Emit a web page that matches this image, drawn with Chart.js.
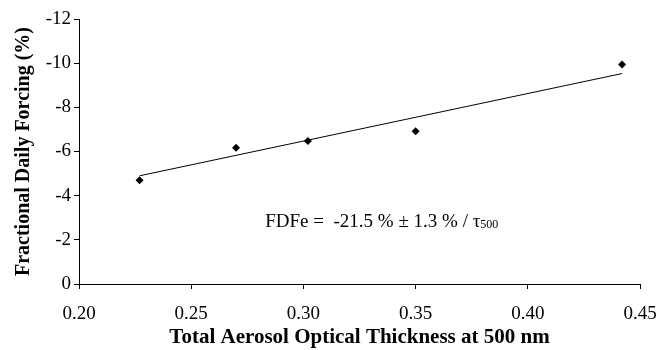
<!DOCTYPE html>
<html>
<head>
<meta charset="utf-8">
<script src="https://cdn.jsdelivr.net/npm/chart.js@4.4.1/dist/chart.umd.min.js"></script>
<style>
  html, body { margin: 0; padding: 0; background: #fff; }
  #wrap { width: 657px; height: 350px; position: relative; }
</style>
</head>
<body>
<div id="wrap"><canvas id="chart"></canvas></div>
<script>
// ── Data ───────────────────────────────────────────────────────────────────
const aodValues     = [0.227, 0.270, 0.302, 0.350, 0.442];
const forcingValues = [-4.70, -6.17, -6.48, -6.92, -9.94];

// fitted line endpoints
const fitX = [0.227, 0.442];
const fitY = [-4.90, -9.53];

const xTicks = [0.20, 0.25, 0.30, 0.35, 0.40, 0.45];
const yTicks = [0, -2, -4, -6, -8, -10, -12];

const SERIF = '"Liberation Serif", "Times New Roman", serif';

const points = aodValues.map((x, i) => ({ x, y: forcingValues[i] }));
const fitLine = fitX.map((x, i) => ({ x, y: fitY[i] }));

// equation text, placed in data coordinates
const eqLabel = {
  id: "eqLabel",
  afterDatasetsDraw(chart) {
    const { ctx, scales } = chart;
    const px = scales.x.getPixelForValue(0.2830);
    const py = scales.y.getPixelForValue(-2.6);
    ctx.save();
    ctx.fillStyle = "#000";
    ctx.textBaseline = "alphabetic";
    ctx.font = "normal 19px " + SERIF;
    const main = "FDFe =  -21.5 % \u00b1 1.3 % / \u03c4";
    ctx.fillText(main, px, py);
    const w = ctx.measureText(main).width;
    ctx.font = "normal 12px " + SERIF;
    ctx.fillText("500", px + w, py + 1);
    ctx.restore();
  },
};

new Chart(document.getElementById("chart"), {
  type: "scatter",
  data: {
    datasets: [
      {
        label: "data",
        data: points,
        pointStyle: "rectRot",
        pointRadius: 4,
        backgroundColor: "#000",
        borderColor: "#000",
        borderWidth: 0,
        showLine: false,
      },
      {
        label: "fit",
        data: fitLine,
        showLine: true,
        pointRadius: 0,
        borderColor: "#000",
        borderWidth: 1,
        fill: false,
      },
    ],
  },
  options: {
    responsive: true,
    maintainAspectRatio: false,
    animation: false,
    layout: { padding: { top: 19, right: 0, left: 0, bottom: 0 } },
    plugins: { legend: { display: false }, tooltip: { enabled: false } },
    scales: {
      x: {
        type: "linear",
        min: 0.20,
        max: 0.45,
        afterBuildTicks: (s) => { s.ticks = xTicks.map((v) => ({ value: v })); },
        afterFit: (s) => {
          s.height = 66;
          s.paddingLeft = 0;
          s.paddingRight = 17;
        },
        grid: { drawOnChartArea: false, drawTicks: true, tickLength: 5, color: "#000" },
        border: { color: "#000", width: 1 },
        ticks: {
          color: "#000",
          font: { family: SERIF, size: 19, weight: "normal" },
          padding: 14,
          maxRotation: 0,
          callback: (v) => Number(v).toFixed(2),
        },
        title: {
          display: true,
          text: "Total Aerosol Optical Thickness at 500 nm",
          color: "#000",
          font: { family: SERIF, size: 21, weight: "bold" },
          padding: { top: 0, bottom: 0 },
        },
      },
      y: {
        type: "linear",
        min: -12,
        max: 0,
        reverse: true,
        afterBuildTicks: (s) => { s.ticks = yTicks.map((v) => ({ value: v })); },
        afterFit: (s) => { s.width = 79; },
        grid: { drawOnChartArea: false, drawTicks: true, tickLength: 5, color: "#000" },
        border: { color: "#000", width: 1 },
        ticks: {
          color: "#000",
          font: { family: SERIF, size: 19, weight: "normal" },
          padding: 3,
          callback: (v) => String(v),
        },
        title: {
          display: true,
          text: "Fractional Daily Forcing (%)",
          color: "#000",
          font: { family: SERIF, size: 20, weight: "bold" },
          padding: { top: 12, bottom: 0 },
        },
      },
    },
  },
  plugins: [eqLabel],
});
</script>
</body>
</html>
